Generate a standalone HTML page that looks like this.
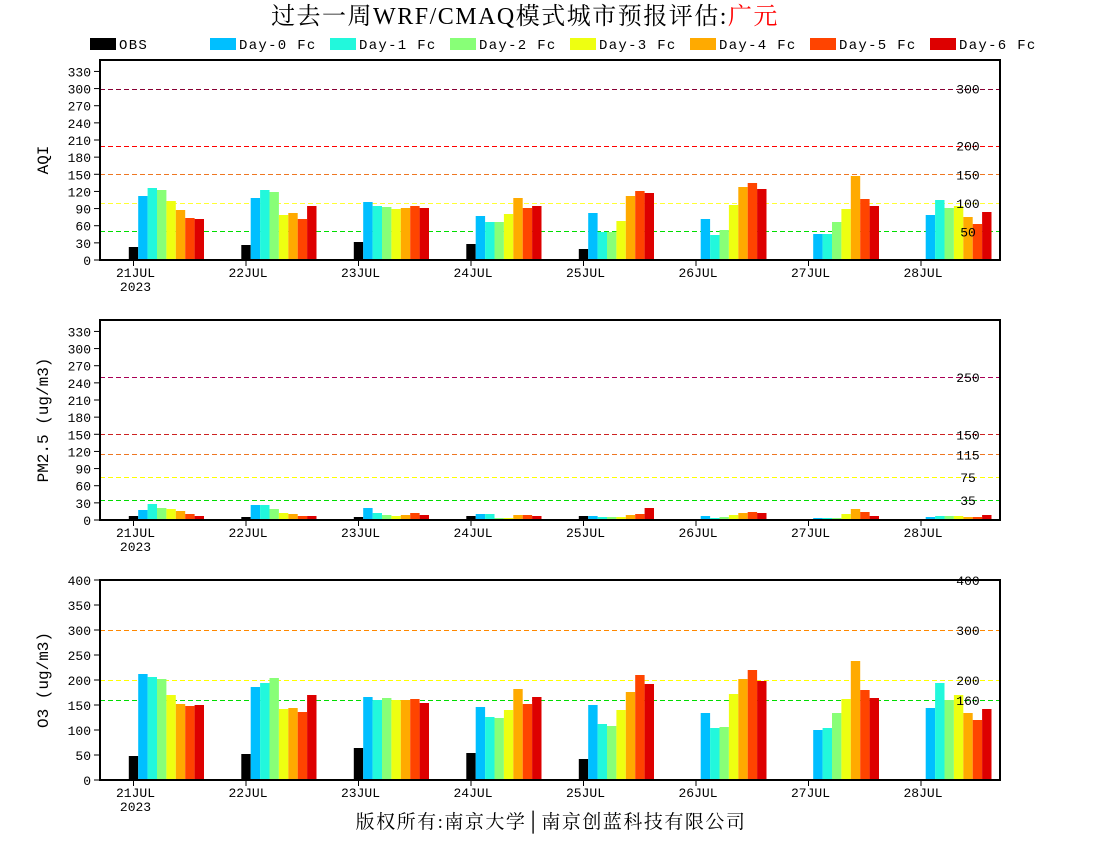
<!DOCTYPE html>
<html><head><meta charset="utf-8"><style>body{margin:0;background:#fff}svg{display:block}text{font-family:"Liberation Mono","Noto Sans CJK SC",monospace;font-size:13px;fill:#000}</style></head>
<body>
<svg id="s" width="1100" height="850" xmlns="http://www.w3.org/2000/svg">
<text x="525" y="24" text-anchor="middle" style="font-family:'Liberation Serif','Noto Serif CJK SC',serif;font-size:24px;letter-spacing:1.5px">过去一周WRF/CMAQ模式城市预报评估:<tspan fill="#ff0000">广元</tspan></text>
<text x="551" y="828" text-anchor="middle" style="font-family:'Liberation Serif','Noto Serif CJK SC',serif;font-size:19px;letter-spacing:1.5px">版权所有:南京大学│南京创蓝科技有限公司</text>
</svg>
<script>
const s=document.getElementById('s');const NS='http://www.w3.org/2000/svg';
function el(t,a,txt){const e=document.createElementNS(NS,t);for(const k in a)e.setAttribute(k,a[k]);if(txt!==undefined)e.textContent=txt;s.appendChild(e);return e;}
const cols=['#000','#00bfff','#22f8dc','#88ff77','#eeff11','#ffaa00','#ff4400','#dd0000'];
const names=['OBS','Day-0 Fc','Day-1 Fc','Day-2 Fc','Day-3 Fc','Day-4 Fc','Day-5 Fc','Day-6 Fc'];
names.forEach((n,i)=>{const x=90+120*i;el('rect',{x:x,y:38,width:26,height:12,fill:cols[i]});el('text',{x:x+29,y:49,style:'font-size:14px;letter-spacing:1.3px'},n);});
const days=['21JUL','22JUL','23JUL','24JUL','25JUL','26JUL','27JUL','28JUL'];
const panels=[
{top:60,max:350,step:30,tmax:330,lab:'AQI',lines:[[300,'#880033'],[200,'#ff0000'],[150,'#ee7722'],[100,'#ffff33'],[50,'#00dd00']],
bars:[[247,196,188,190,201,210,218,219],[245,198,190,192,215,213,219,206],[242,202,206,207,209,208,206,208],[244,216,222,222,214,198,208,206],[249,213,232,232,221,196,191,193],[null,219,235,230,205,187,183,189],[null,234,234,222,209,176,199,206],[null,215,200,208,206,217,224,212]]},
{top:320,max:350,step:30,tmax:330,lab:'PM2.5 (ug/m3)',lines:[[250,'#aa0055'],[150,'#cc2222'],[115,'#ee7722'],[75,'#ffff00'],[35,'#00dd00']],
bars:[[516,510,504,508,509,511,514,516],[517,505,505,509,513,514,516,516],[517,508,513,515,516,515,513,515],[516,514,514,518,518,515,515,516],[516,516,517,517,517,515,514,508],[null,516,518,517,515,513,512,513],[null,518,518,518,514,509,512,516],[null,517,516,516,516,517,517,515]]},
{top:580,max:400,step:50,tmax:400,lab:'O3 (ug/m3)',lines:[[400,'#ff0000'],[300,'#ff8800'],[200,'#ffff00'],[160,'#00dd00']],
bars:[[756,674,677,679,695,704,706,705],[754,687,683,678,709,708,712,695],[748,697,700,698,700,700,699,703],[753,707,717,718,710,689,704,697],[759,705,724,726,710,692,675,684],[null,713,728,727,694,679,670,681],[null,730,728,713,699,661,690,698],[null,708,683,700,695,713,720,709]]}];
panels.forEach(p=>{const b=p.top+200,k=200/p.max;
 p.lines.forEach(([v,c])=>{const y=Math.round(b-v*k)+0.5;el('line',{x1:100,x2:1000,y1:y,y2:y,stroke:c,'stroke-width':1.3,'stroke-dasharray':'5,3','shape-rendering':'crispEdges'});});
 p.bars.forEach((g,d)=>{const t=133.5+112.5*d;g.forEach((y,i)=>{if(y==null)return;const x=t-4.7+i*9.4;el('rect',{x:x,y:y,width:9.4,height:b-y,fill:cols[i]});});
  el('line',{x1:t,x2:t,y1:b,y2:b+6,stroke:'#000'});el('text',{x:t+2,y:b+17,'text-anchor':'middle'},days[d]);if(d==0)el('text',{x:t+2,y:b+31,'text-anchor':'middle'},'2023');});
 p.lines.forEach(([v,c])=>{const y=b-v*k;el('text',{x:968,y:y+5,'text-anchor':'middle'},String(v));});
 for(let v=0;v<=p.tmax;v+=p.step){const y=b-v*k;el('line',{x1:94,x2:100,y1:y,y2:y,stroke:'#000'});el('text',{x:91,y:y+5,'text-anchor':'end'},String(v));}
 el('rect',{x:100,y:p.top,width:900,height:200,fill:'none',stroke:'#000','stroke-width':2});
 el('text',{x:0,y:0,transform:`translate(48,${p.top+100}) rotate(-90)`,'text-anchor':'middle',style:'font-size:16px'},p.lab);
});
</script>
</body></html>
